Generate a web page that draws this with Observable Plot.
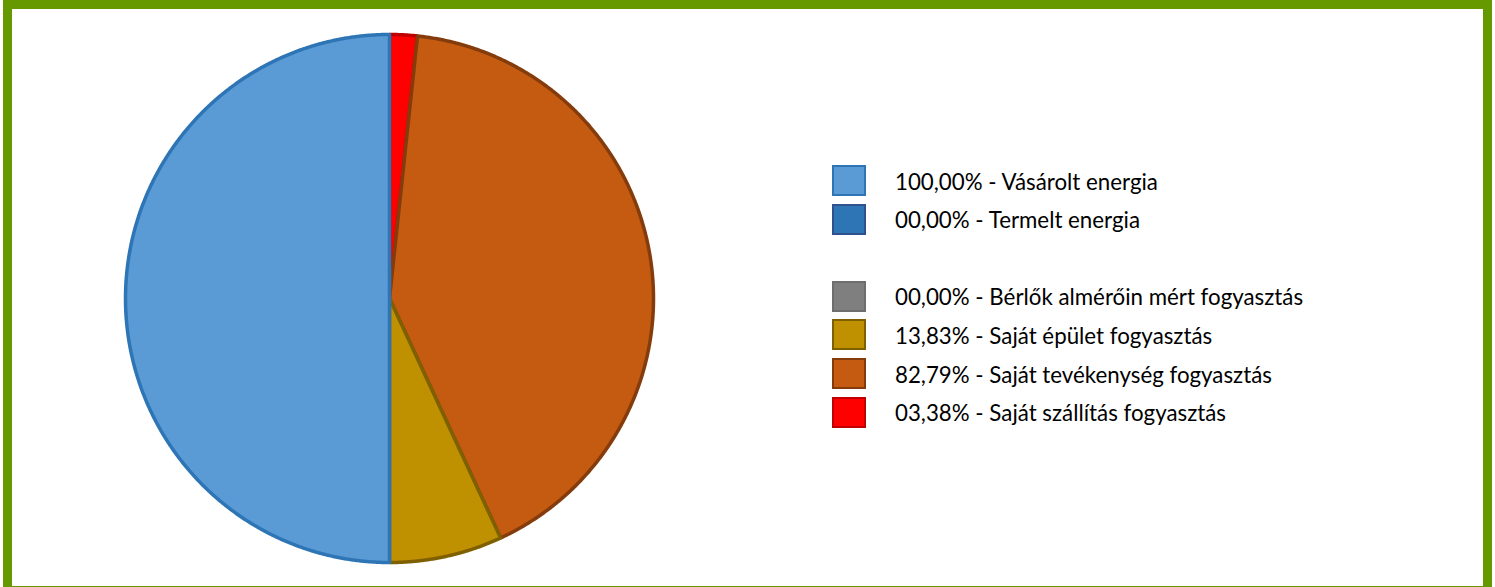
<!DOCTYPE html>
<html><head><meta charset="utf-8">
<script src="https://cdn.jsdelivr.net/npm/d3@7"></script>
<script src="https://cdn.jsdelivr.net/npm/@observablehq/plot@0.6"></script>
<style>
html,body{margin:0;padding:0;overflow:hidden;background:#fff;width:1495px;height:587px;}
#chart{position:absolute;left:0;top:0;}
#frame{position:absolute;left:3px;top:0;width:1471px;height:577px;border:9px solid #669900;pointer-events:none;z-index:5;}
#legend{position:absolute;left:832px;top:165px;font-family:Lato, "Open Sans", sans-serif;font-size:22.3px;color:#000;}
.row{position:absolute;left:0;height:31px;display:flex;align-items:center;white-space:nowrap;}
.key{width:30px;height:27px;border:2px solid;box-sizing:content-box;}
.lab{position:absolute;left:63px;top:50%;transform:translateY(-50%);}
</style></head>
<body>
<div id="chart"></div>
<div id="legend"></div>
<div id="frame"></div>
<script>
const categories = ["Vásárolt energia","Termelt energia","Bérlők almérőin mért fogyasztás","Saját épület fogyasztás","Saját tevékenység fogyasztás","Saját szállítás fogyasztás"];
const values = [100, 0, 0, 13.83, 82.79, 3.38];
const percentLabels = ["100,00%","00,00%","00,00%","13,83%","82,79%","03,38%"];
const fillColors = ["#5b9bd5","#2e75b6","#7f7f7f","#bf9000","#c55a11","#ff0000"];
const strokeColors = ["#2e75b6","#2f528f","#6e6e6e","#7f6000","#843c0c","#c00000"];
const legendRows = [0,1,3,4,5,6]; // legend slot for each category (slot 2 is blank)

const cx = 389, cy = 298, r = 264;
const arcs = d3.pie().sort(null).startAngle(0).endAngle(-2*Math.PI)(values);

function slicePoints(a) {
  const pts = [{x:0,y:0}];
  const n = Math.max(2, Math.ceil(Math.abs(a.endAngle - a.startAngle) / 0.005));
  for (let i = 0; i <= n; i++) {
    const t = a.startAngle + (a.endAngle - a.startAngle) * i / n;
    pts.push({x: Math.sin(t), y: Math.cos(t)});
  }
  return pts;
}

const order = arcs.map((a,i)=>i).filter(i=>values[i]>0).reverse();
const marks = order.map(i => Plot.line(slicePoints(arcs[i]), {
  x:"x", y:"y", curve:"linear-closed",
  fill: fillColors[i], stroke: strokeColors[i], strokeWidth: 3.5, strokeLinejoin:"round"
}));

const plot = Plot.plot({
  width:1495, height:587, margin:0,
  x:{domain:[-1,1], range:[cx-r, cx+r], axis:null},
  y:{domain:[-1,1], range:[cy+r, cy-r], axis:null},
  style:{background:"transparent", overflow:"visible"},
  marks
});
document.getElementById("chart").appendChild(plot);

const legend = document.getElementById("legend");
categories.forEach((c,i)=>{
  const row = document.createElement("div");
  row.className = "row";
  row.style.top = (legendRows[i]*38.6) + "px";
  const key = document.createElement("div");
  key.className = "key";
  key.style.background = fillColors[i];
  key.style.borderColor = strokeColors[i];
  const lab = document.createElement("span");
  lab.className = "lab";
  lab.textContent = percentLabels[i] + " - " + c;
  row.appendChild(key); row.appendChild(lab);
  legend.appendChild(row);
});
</script>
</body></html>
